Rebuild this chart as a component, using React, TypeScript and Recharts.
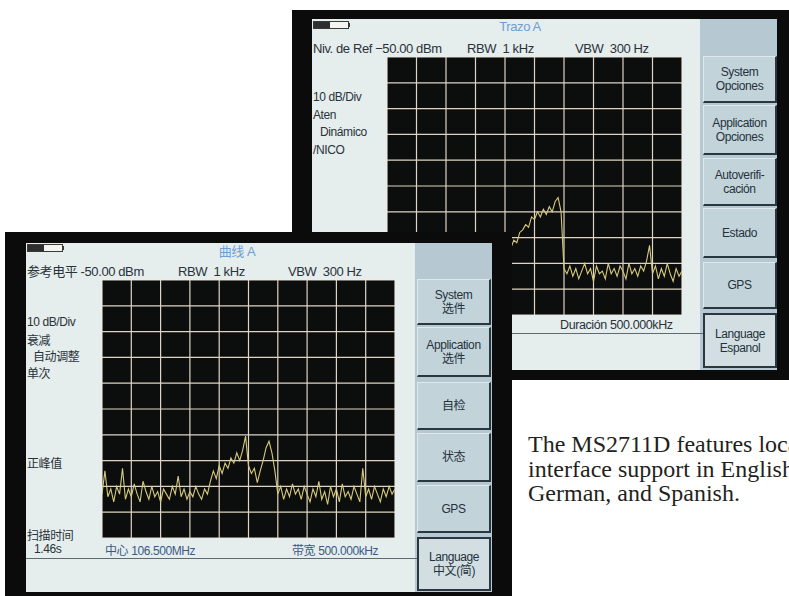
import React from 'react';
import { LineChart, Line, XAxis, YAxis, CartesianGrid } from 'recharts';

// Trace levels in dBm, 101 points across a 500 kHz span (ref level -50 dBm, 10 dB/div)
const backTraceDbm = [
  -134, -131, -135, -133, -136, -132, -134, -130, -135, -133,
  -137, -132, -134, -131, -135, -133, -136, -131, -134, -132,
  -135, -130, -134, -136, -132, -133, -135, -131, -134, -132,
  -130, -133, -131, -132, -131, -129, -130, -127, -128, -125,
  -126, -123, -124, -121, -122, -118, -117, -115, -116, -112,
  -113, -110, -112, -109, -111, -108, -110, -106, -104.5, -110,
  -132, -134, -131, -135, -132, -136, -133, -130, -134, -132,
  -137, -131, -134, -133, -136, -130, -134, -132, -135, -131,
  -133, -136, -130, -134, -132, -135, -131, -133, -129, -123,
  -134, -131, -136, -132, -135, -130, -134, -137, -132, -135,
  -133,
];

const frontTraceDbm = [
  -133, -124, -134, -131, -136, -130, -133, -123, -135, -131,
  -134, -129, -133, -136, -128, -132, -135, -130, -134, -132,
  -136, -131, -133, -135, -130, -133, -126, -134, -131, -135,
  -132, -134, -130, -133, -135, -131, -133, -128, -124, -127,
  -122, -125, -121, -123, -119, -121, -117, -120, -116, -110.5,
  -122, -125, -123, -128.5, -124, -120, -115, -112.5, -117, -124,
  -133, -130, -135, -131, -134, -129, -133, -131, -135, -130,
  -133, -136, -131, -134, -128, -135, -132, -137, -130, -134,
  -131, -136, -129, -134, -132, -135, -130, -133, -136, -123,
  -134, -131, -135, -130, -133, -136, -131, -134, -130, -133,
  -131,
];

const GRID_X = [10, 20, 30, 40, 50, 60, 70, 80, 90];
const GRID_Y = [-140, -130, -120, -110, -100, -90, -80, -70, -60];

const backMenu = [
  ['System', 'Opciones'],
  ['Application', 'Opciones'],
  ['Autoverifi-', 'cación'],
  ['Estado'],
  ['GPS'],
  ['Language', 'Espanol'],
];
const frontMenu = [
  ['System', '选件'],
  ['Application', '选件'],
  ['自检'],
  ['状态'],
  ['GPS'],
  ['Language', '中文(简)'],
];

const backData = backTraceDbm.map((v, i) => ({ i, v }));
const frontData = frontTraceDbm.map((v, i) => ({ i, v }));

const CJK = '"Liberation Sans", "Noto Sans CJK SC", sans-serif';
const INK = '#2a323a';

function Txt({ x, y, children, size = 12, color = INK, w, align = 'left' }: any) {
  return (
    <div
      style={{
        position: 'absolute',
        left: x,
        top: y,
        width: w,
        textAlign: align,
        fontFamily: CJK,
        fontSize: size,
        lineHeight: 1,
        color,
        whiteSpace: 'nowrap',
        letterSpacing: -0.4,
      }}
    >
      {children}
    </div>
  );
}

function Box({ x, y, w, h, bg }: any) {
  return <div style={{ position: 'absolute', left: x, top: y, width: w, height: h, background: bg }} />;
}

function Battery({ x, y }: any) {
  return (
    <div style={{ position: 'absolute', left: x, top: y, width: 34, height: 6, border: '1px solid #3a3a3a', background: '#f4f4f0' }}>
      <div style={{ width: 16, height: 6, background: '#2e2e2e' }} />
      <div style={{ position: 'absolute', left: 34, top: 1, width: 2, height: 4, background: '#3a3a3a' }} />
    </div>
  );
}

function MenuButton({ x, y, w, h, lines, selected }: any) {
  return (
    <div
      style={{
        position: 'absolute',
        left: x,
        top: y,
        width: w,
        height: h,
        boxSizing: 'border-box',
        background: selected ? '#d2dee2' : '#c3d3da',
        borderTop: selected ? '2px solid #2a3640' : '1px solid #dfe9ec',
        borderLeft: selected ? '2px solid #2a3640' : '1px solid #dfe9ec',
        borderBottom: '2px solid #2a3640',
        borderRight: '2px solid #2a3640',
        display: 'flex',
        flexDirection: 'column',
        alignItems: 'center',
        justifyContent: 'center',
        fontFamily: CJK,
        fontSize: 12,
        color: '#24323c',
        letterSpacing: -0.4,
      }}
    >
      {lines.map((l: string) => (
        <div key={l} style={{ height: 14, lineHeight: '14px', whiteSpace: 'nowrap' }}>{l}</div>
      ))}
    </div>
  );
}

function Trace({ data, width, height }: any) {
  return (
    <LineChart width={width} height={height} data={data} margin={{ top: 0, right: 0, bottom: 0, left: 0 }}>
      <CartesianGrid fill="#0b0e0d" stroke="#e2d4c4" strokeWidth={1.2} />
      <XAxis type="number" dataKey="i" domain={[0, 100]} ticks={GRID_X} hide />
      <YAxis type="number" domain={[-150, -50]} ticks={GRID_Y} hide />
      <Line type="linear" dataKey="v" stroke="#d6c97a" strokeWidth={1.1} dot={false} isAnimationActive={false} />
    </LineChart>
  );
}

const backButtonsY = [
  [56, 47],
  [105, 50],
  [158, 48],
  [208, 50],
  [262, 47],
  [313, 55],
];
const frontButtonsY = [
  [279, 46],
  [327, 50],
  [382, 48],
  [433, 49],
  [485, 48],
  [537, 54],
];

export default function App() {
  return (
    <div style={{ position: 'absolute', left: 0, top: 0, width: 789, height: 596, overflow: 'hidden', background: '#ffffff' }}>
      {/* Spanish screen (behind) */}
      <Box x={292} y={10} w={510} h={370} bg="#0b0b0b" />
      <Box x={312} y={19} w={465} h={351} bg="#e5eded" />
      <Box x={700} y={19} w={77} h={351} bg="#b6c8d1" />
      <Battery x={313} y={21} />
      <Txt x={470} y={20} w={100} align="center" size={13} color="#6a9fd6">Trazo A</Txt>
      <Txt x={313} y={42} size={13}>Niv. de Ref −50.00 dBm</Txt>
      <Txt x={467} y={42} size={13}>RBW&nbsp; 1 kHz</Txt>
      <Txt x={575} y={42} size={13}>VBW&nbsp; 300 Hz</Txt>
      <div style={{ position: 'absolute', left: 387, top: 57 }}>
        <Trace data={backData} width={295} height={258} />
      </div>
      <Txt x={313} y={91}>10 dB/Div</Txt>
      <Txt x={313} y={109}>Aten</Txt>
      <Txt x={320} y={126}>Dinámico</Txt>
      <Txt x={313} y={144}>/NICO</Txt>
      <Txt x={560} y={319} size={12.5}>Duración 500.000kHz</Txt>
      <Box x={312} y={333} w={392} h={1} bg="#5c6a72" />
      {backMenu.map((lines, k) => (
        <MenuButton key={k} x={703} y={backButtonsY[k][0]} w={74} h={backButtonsY[k][1]} lines={lines} selected={k === 5} />
      ))}

      {/* Chinese screen (front) */}
      <Box x={5} y={232} w={507} h={364} bg="#0b0b0b" />
      <Box x={26} y={243} w={466} h={349} bg="#e5eded" />
      <Box x={415} y={243} w={77} h={349} bg="#b6c8d1" />
      <Battery x={27} y={244} />
      <Txt x={187} y={245} w={100} align="center" size={13} color="#6a9fd6">曲线 A</Txt>
      <Txt x={27} y={265} size={13}>参考电平 -50.00 dBm</Txt>
      <Txt x={178} y={265} size={13}>RBW&nbsp; 1 kHz</Txt>
      <Txt x={288} y={265} size={13}>VBW&nbsp; 300 Hz</Txt>
      <div style={{ position: 'absolute', left: 102, top: 280 }}>
        <Trace data={frontData} width={293} height={258} />
      </div>
      <Txt x={27} y={316}>10 dB/Div</Txt>
      <Txt x={27} y={335}>衰减</Txt>
      <Txt x={33} y={351}>自动调整</Txt>
      <Txt x={27} y={368}>单次</Txt>
      <Txt x={27} y={458}>正峰值</Txt>
      <Txt x={27} y={530}>扫描时间</Txt>
      <Txt x={34} y={543}>1.46s</Txt>
      <Txt x={105} y={545} color="#3a5a88">中心 106.500MHz</Txt>
      <Txt x={292} y={545} color="#3a5a88">带宽 500.000kHz</Txt>
      <Box x={26} y={558} w={392} h={1} bg="#5c6a72" />
      {frontMenu.map((lines, k) => (
        <MenuButton key={k} x={417} y={frontButtonsY[k][0]} w={74} h={frontButtonsY[k][1]} lines={lines} selected={k === 5} />
      ))}

      {/* caption */}
      <div
        style={{
          position: 'absolute',
          left: 528,
          top: 432,
          fontFamily: '"Liberation Serif", "Times New Roman", serif',
          fontSize: 24,
          lineHeight: '24.5px',
          color: '#231f20',
          whiteSpace: 'nowrap',
        }}
      >
        <div>The MS2711D features localized</div>
        <div>interface support in English,</div>
        <div>German, and Spanish.</div>
      </div>
    </div>
  );
}
